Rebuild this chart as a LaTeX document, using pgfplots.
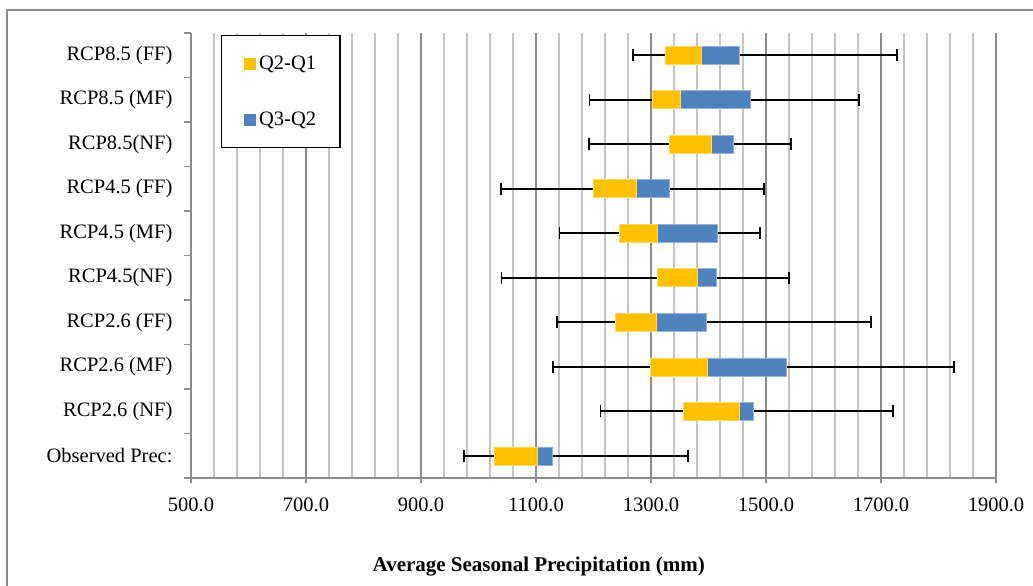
\documentclass[border=0pt]{standalone}
\usepackage{pgfplots}
\usepackage{pgfplotstable}
\pgfplotsset{compat=1.18}
\usepackage{fontspec}
\setmainfont{Liberation Serif}

\definecolor{qyellow}{HTML}{FFC000}
\definecolor{qblue}{HTML}{4F81BD}
\definecolor{gridmaj}{HTML}{8C8C8C}
\definecolor{gridmin}{HTML}{C4C4C4}

% min, Q1, Q2, Q3, max per scenario (mm)
\pgfplotstableread{
y  lo    q1    q2    q3    hi
0  975   1027  1102  1128  1365
1  1212  1356  1454  1477  1721
2  1130  1299  1397  1535  1827
3  1137  1238  1309  1396  1682
4  1040  1311  1380  1414  1540
5  1141  1245  1310  1416  1489
6  1039  1199  1274  1332  1497
7  1192  1332  1404  1443  1543
8  1193  1302  1350  1473  1662
9  1269  1324  1387  1454  1728
}\stats

\pgfplotsset{
  boxframe/.style={
    at={(191pt,-478pt)}, anchor=south west,
    scale only axis, width=805pt, height=445pt,
    xmin=500, xmax=1900, ymin=-0.5, ymax=9.5,
  }
}

\begin{document}
\begin{tikzpicture}
% axis, grid and whiskers
\begin{axis}[
    boxframe,
    axis lines*=left,
    axis line style={gridmaj, line width=1.2pt},
    xtick={500,700,...,1900},
    xticklabels={500.0,700.0,900.0,1100.0,1300.0,1500.0,1700.0,1900.0},
    minor xtick={540,580,...,1860},
    xmajorgrids, xminorgrids,
    major grid style={gridmaj, line width=1.3pt},
    minor grid style={gridmin, line width=1.3pt},
    ytick={0,...,9},
    yticklabels={Observed Prec:,RCP2.6 (NF),RCP2.6 (MF),RCP2.6 (FF),RCP4.5(NF),RCP4.5 (MF),RCP4.5 (FF),RCP8.5(NF),RCP8.5 (MF),RCP8.5 (FF)},
    minor ytick={-0.5,0.5,...,9.5},
    tick align=outside,
    major tick length=5pt, minor tick length=7pt,
    major y tick style={draw=none},
    minor x tick style={draw=none},
    major x tick style={gridmaj, line width=1.2pt},
    minor y tick style={gridmaj, line width=1.2pt},
    tick label style={font=\fontsize{20.5}{24}\selectfont},
    yticklabel style={xshift=-10pt},
    xticklabel style={yshift=-11pt},
    xlabel={\textbf{Average Seasonal Precipitation (mm)}},
    xlabel style={font=\fontsize{21}{24}\selectfont, at={(axis description cs:0.432,-0.198)}, anchor=center},
]
\addplot[draw=none, mark=none,
    error bars/.cd, x dir=both, x explicit,
    error mark=|,
    error bar style={draw=black, line width=1.8pt},
    error mark options={draw=black, line width=1.8pt, mark size=6pt}]
  table[x=q1, y=y,
        x error plus expr=\thisrow{hi}-\thisrow{q1},
        x error minus expr=\thisrow{q1}-\thisrow{lo}] {\stats};
\end{axis}
% boxes and legend
\begin{axis}[
    boxframe, hide axis,
    xbar stacked, bar width=18pt,
    legend style={at={(rel axis cs:0.0373,0.9955)}, anchor=north west,
        draw=black, line width=1.2pt, font=\fontsize{20.5}{24}\selectfont,
        inner xsep=22pt, inner ysep=18.5pt, row sep=37pt, column sep=2pt,
        nodes={inner sep=2pt}},
    legend cell align=left,
]
\addplot[draw=none, fill=none, forget plot] table[x=q1, y=y] {\stats};
\addplot[fill=qyellow, draw=qyellow!60!white, line width=0.5pt,
    legend image code/.code={\fill[qyellow] (0pt,-5.5pt) rectangle (11pt,5.5pt);}]
  table[x expr=\thisrow{q2}-\thisrow{q1}, y=y] {\stats};
\addplot[fill=qblue, draw=qblue!60!white, line width=0.5pt,
    legend image code/.code={\fill[qblue] (0pt,-5.5pt) rectangle (11pt,5.5pt);}]
  table[x expr=\thisrow{q3}-\thisrow{q2}, y=y] {\stats};
\legend{Q2-Q1,Q3-Q2}
\end{axis}
\draw[gridmaj, line width=1.5pt] (7pt,-586pt) -- (7pt,-10pt) -- (1033pt,-10pt);
\pgfresetboundingbox
\path[use as bounding box] (0pt,0pt) rectangle (1033pt,-586pt);
\end{tikzpicture}
\end{document}
